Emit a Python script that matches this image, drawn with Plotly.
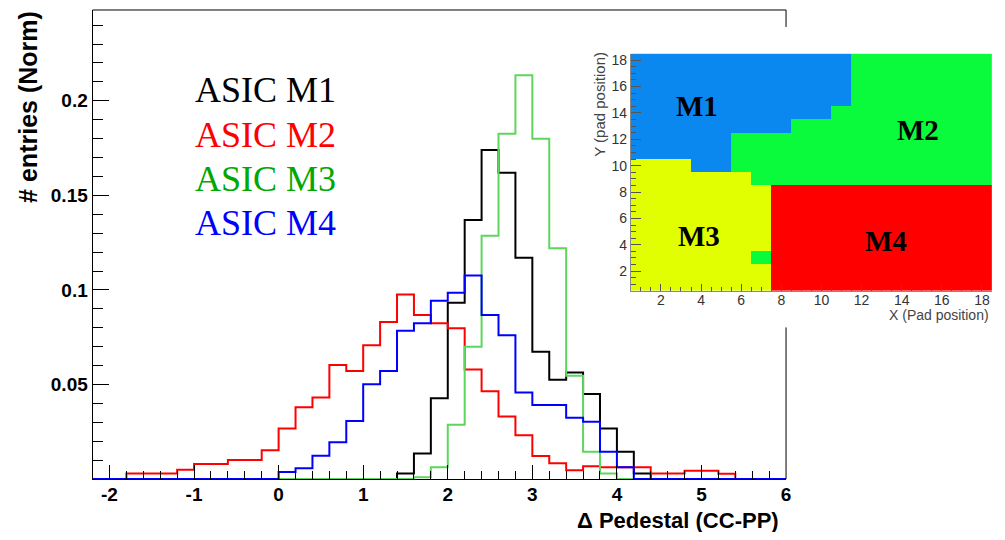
import numpy as np
import plotly.graph_objects as go

# ---------------- data ----------------
bin_start = -2.2
bin_width = 0.2
n_bins = 41  # -2.2 ... 6.0

asic_m1 = [0, 0, 0, 0, 0, 0, 0, 0, 0, 0, 0, 0, 0, 0, 0, 0, 0, 0,
           0.003, 0.0136, 0.0427, 0.0932, 0.137, 0.174, 0.162, 0.117, 0.0673, 0.0525,
           0.0563, 0.045, 0.0267, 0.0145, 0.003,
           0, 0, 0, 0, 0, 0, 0, 0]
asic_m2 = [0, 0, 0.003, 0.003, 0.003, 0.0049, 0.008, 0.008, 0.0101, 0.0101, 0.0153,
           0.0267, 0.038, 0.0432, 0.0603, 0.0572, 0.0708, 0.083, 0.0976, 0.0868, 0.0824,
           0.0798, 0.058, 0.0464, 0.0331, 0.0232, 0.0122, 0.0084, 0.0047, 0.0068, 0.0063,
           0.0063, 0.0063, 0.003, 0.003, 0.0044, 0.0044, 0.0028, 0, 0, 0]
asic_m3 = [0, 0, 0, 0, 0, 0, 0, 0, 0, 0, 0, 0, 0, 0, 0, 0, 0, 0, 0,
           0.001, 0.0063, 0.0288, 0.070, 0.1286, 0.1826, 0.2135, 0.180, 0.122, 0.0546,
           0.0145, 0.003,
           0, 0, 0, 0, 0, 0, 0, 0, 0, 0]
asic_m4 = [0, 0, 0, 0, 0, 0, 0, 0, 0, 0, 0,
           0.0037, 0.0058, 0.0124, 0.0195, 0.0307, 0.0502, 0.0572, 0.0784, 0.0824, 0.0943,
           0.0985, 0.1077, 0.0868, 0.076, 0.0458, 0.0392, 0.0392, 0.0325, 0.0303, 0.0145,
           0.0063,
           0, 0, 0, 0, 0, 0, 0, 0, 0]

series_names = ["ASIC M1", "ASIC M2", "ASIC M3", "ASIC M4"]
y_tick_vals = [0.05, 0.1, 0.15, 0.2]
y_tick_text = ["0.05", "0.1", "0.15", "0.2"]
x_tick_vals = [-2, -1, 0, 1, 2, 3, 4, 5, 6]
x_tick_text = ["-2", "-1", "0", "1", "2", "3", "4", "5", "6"]

# inset pad map (top row = Y 18, columns X 1..18); 1=M1 2=M2 3=M3 4=M4
pad_map_rows = [
    "111111111112222222",
    "111111111112222222",
    "111111111112222222",
    "111111111112222222",
    "111111111122222222",
    "111111112222222222",
    "111112222222222222",
    "111112222222222222",
    "333112222222222222",
    "333333222222222222",
    "333333344444444444",
    "333333344444444444",
    "333333344444444444",
    "333333344444444444",
    "333333344444444444",
    "333333244444444444",
    "333333344444444444",
    "333333344444444444",
]
pad_y_top = 18
module_labels = ["M1", "M2", "M3", "M4"]

# ---------------- figure ----------------
# the page body has an 8px margin on every side: keep the page at 1005x540
OFF = 8
W, H = 1005 - 2 * OFF, 540 - 2 * OFF


def px_x(p):
    return (p - OFF) / W


def px_y(p):
    return 1 - (p - OFF) / H


edges = np.round(bin_start + bin_width * np.arange(n_bins + 1), 1)

hist_colors = ["#000000", "#ff0000", "#5ed65e", "#0000ff"]
legend_colors = ["#000000", "#ff0000", "#00a800", "#0000ff"]

fig = go.Figure()
for name, vals, col in zip(series_names, [asic_m1, asic_m2, asic_m3, asic_m4], hist_colors):
    fig.add_trace(go.Scatter(
        x=edges, y=list(vals) + [vals[-1]], mode="lines",
        line=dict(color=col, width=2, shape="hv"), name=name,
        showlegend=False, xaxis="x", yaxis="y"))

# inset heat map
z = [[int(c) - 1 for c in row] for row in pad_map_rows][::-1]
pad_x = list(range(1, 19))
pad_y = list(range(pad_y_top - len(pad_map_rows) + 1, pad_y_top + 1))
cs = [[0, "#0a88f0"], [0.25, "#0a88f0"], [0.25, "#0afa3c"], [0.5, "#0afa3c"],
      [0.5, "#e1ff00"], [0.75, "#e1ff00"], [0.75, "#ff0000"], [1, "#ff0000"]]
fig.add_trace(go.Heatmap(x=pad_x, y=pad_y, z=z, zmin=-0.5, zmax=3.5, colorscale=cs,
                         showscale=False, xaxis="x2", yaxis="y2", hoverinfo="skip"))

main_font = dict(family="Liberation Sans", size=19, color="black", weight="bold")

INSET_L, INSET_R = 634, 997

fig.update_layout(
    width=W, height=H, autosize=False,
    margin=dict(l=0, r=0, t=0, b=0),
    paper_bgcolor="white", plot_bgcolor="white",
    showlegend=False,
    xaxis=dict(domain=[px_x(93), px_x(790)], range=[-2.2, 6.0],
               tickvals=x_tick_vals, ticktext=x_tick_text, ticks="inside", ticklen=14,
               tickwidth=1, ticklabelstandoff=-2,
               tickcolor="black", showline=True, linecolor="black", linewidth=1,
               showgrid=False, zeroline=False, tickfont=main_font,
               minor=dict(dtick=0.2, tick0=0, ticks="inside", ticklen=8,
                          tickcolor="black", showgrid=False),
               anchor="y"),
    yaxis=dict(domain=[px_y(479), px_y(9)], range=[0, 0.248],
               tickvals=y_tick_vals, ticktext=y_tick_text, ticks="inside",
               ticklen=16, tickwidth=1, tickcolor="black", showline=True,
               linecolor="black", linewidth=1, showgrid=False, zeroline=False,
               tickfont=main_font,
               minor=dict(dtick=0.01, tick0=0, ticks="inside", ticklen=10,
                          tickcolor="black", showgrid=False),
               anchor="x"),
    xaxis2=dict(domain=[px_x(INSET_L), min(1.0, px_x(INSET_R))], range=[0.5, 18.5],
                anchor="y2",
                tick0=0, dtick=2, ticks="inside", ticklen=7, tickcolor="#555",
                showline=True, linecolor="#888", linewidth=1,
                showgrid=False, zeroline=False, ticklabelstandoff=-4,
                tickfont=dict(family="Liberation Sans", size=14, color="#333"),
                minor=dict(dtick=0.5, tick0=0.5, ticks="inside", ticklen=4,
                           tickcolor="#555", showgrid=False)),
    yaxis2=dict(domain=[px_y(290.5), px_y(52.7)], range=[0.5, 18.5], anchor="x2",
                tick0=0, dtick=2, ticks="inside", ticklen=10, tickcolor="#555",
                showline=True, linecolor="#888", linewidth=1,
                showgrid=False, zeroline=False,
                tickfont=dict(family="Liberation Sans", size=14, color="#333"),
                minor=dict(dtick=0.5, tick0=0.5, ticks="inside", ticklen=5,
                           tickcolor="#555", showgrid=False)),
)

# frame lines (top and right, right one interrupted by the inset)
frame = dict(type="line", xref="paper", yref="paper", line=dict(color="black", width=1))
fig.add_shape(**frame, x0=px_x(93), x1=px_x(790), y0=px_y(9), y1=px_y(9))
fig.add_shape(**frame, x0=px_x(790), x1=px_x(790), y0=px_y(9), y1=px_y(26))
fig.add_shape(**frame, x0=px_x(790), x1=px_x(790), y0=px_y(327), y1=px_y(479))

# axis titles
fig.add_annotation(text="# entries (Norm)", textangle=-90, xref="paper", yref="paper",
                   x=px_x(28), y=px_y(8), xanchor="center", yanchor="top", showarrow=False,
                   font=dict(family="Liberation Sans", size=25, color="black", weight="bold"))
fig.add_annotation(text="\u0394 Pedestal (CC-PP)", xref="paper", yref="paper",
                   x=px_x(785), y=px_y(520), xanchor="right", yanchor="middle",
                   height=24, valign="middle", showarrow=False,
                   font=dict(family="Liberation Sans", size=22, color="black", weight="bold"))

# legend text
legend_y_px = [89.5, 134, 178.5, 222.5]
for name, col, yp in zip(series_names, legend_colors, legend_y_px):
    fig.add_annotation(text=name, xref="paper", yref="paper", x=px_x(194), y=px_y(yp),
                       xanchor="left", yanchor="middle", showarrow=False,
                       font=dict(family="Liberation Serif", size=36, color=col))

# inset titles
fig.add_annotation(text="Y (pad position)", textangle=-90, xref="paper", yref="paper",
                   x=px_x(INSET_L - 31), y=px_y(103), xanchor="center", yanchor="middle",
                   showarrow=False,
                   font=dict(family="Liberation Sans", size=15, color="#444"))
fig.add_annotation(text="X (Pad position)", xref="paper", yref="paper",
                   x=px_x(INSET_R - 1), y=px_y(315), xanchor="right", yanchor="middle",
                   showarrow=False,
                   font=dict(family="Liberation Sans", size=14, color="#444"))

# module labels in the inset
label_pos = [(3.8, 14.5), (14.8, 12.7), (3.9, 4.7), (13.2, 4.3)]
for lab, (lx, ly) in zip(module_labels, label_pos):
    fig.add_annotation(text=lab, xref="x2", yref="y2", x=lx, y=ly, showarrow=False,
                       xanchor="center", yanchor="middle",
                       font=dict(family="Liberation Serif", size=29, color="black",
                                 weight="bold"))

fig.write_html("out.html")
